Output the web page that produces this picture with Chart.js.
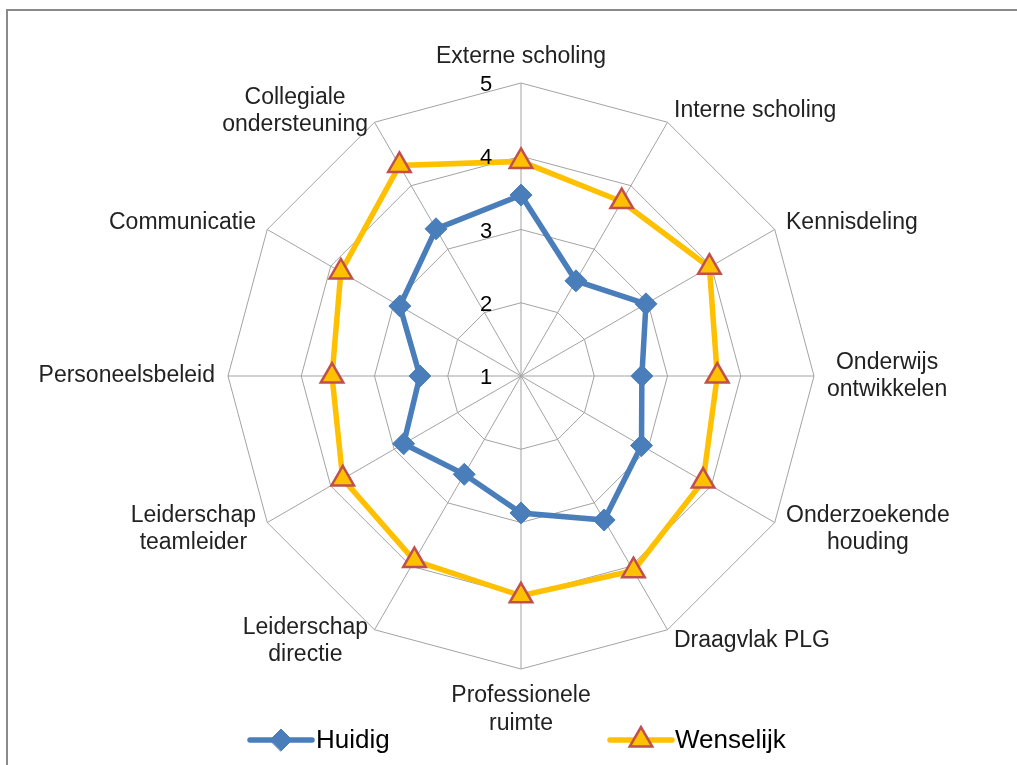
<!DOCTYPE html>
<html>
<head>
<meta charset="utf-8">
<script src="https://cdn.jsdelivr.net/npm/chart.js@4/dist/chart.umd.min.js"></script>
<style>
  html, body { margin: 0; padding: 0; background: #fff; overflow: hidden; }
  #wrap { position: relative; width: 1017px; height: 765px; }
  #frame { position: absolute; left: 6px; top: 9px; width: 1100px; height: 900px;
           border-left: 2px solid #8a8a8a; border-top: 2px solid #8a8a8a; pointer-events: none; }
  canvas { position: absolute; left: 0; top: 0; }
</style>
</head>
<body>
<div id="wrap">
  <canvas id="c" width="1017" height="765"></canvas>
  <div id="frame"></div>
</div>
<script>
const categories = [
  'Externe scholing',
  'Interne scholing',
  'Kennisdeling',
  ['Onderwijs', 'ontwikkelen'],
  ['Onderzoekende', 'houding'],
  'Draagvlak PLG',
  ['Professionele', 'ruimte'],
  ['Leiderschap', 'directie'],
  ['Leiderschap', 'teamleider'],
  'Personeelsbeleid',
  'Communicatie',
  ['Collegiale', 'ondersteuning']
];
const huidig    = [3.47, 2.5, 2.97, 2.65, 2.9, 3.27, 2.87, 2.55, 2.85, 2.38, 2.91, 3.32];
const wenselijk = [3.93, 3.75, 3.97, 3.68, 3.87, 4.07, 4.0, 3.91, 3.81, 3.58, 3.84, 4.32];
const tickValues = [1, 2, 3, 4, 5];
const seriesNames = ['Huidig', 'Wenselijk'];

const BLUE = '#4A7EBB';
const GOLD = '#FFC000';
const RED = '#C0504D';
const FONT = '"Liberation Sans", Arial, sans-serif';

const layoutFix = { cx: 521, cy: 376, R: 293 };

const pointLabelPlugin = {
  id: 'pointLabelsCentered',
  afterDraw(chart) {
    const s = chart.scales.r;
    const ctx = chart.ctx;
    const pad = 13, lh = 27.5;
    ctx.save();
    ctx.font = '23px ' + FONT;
    ctx.fillStyle = '#222';
    ctx.textBaseline = 'middle';
    ctx.textAlign = 'center';
    chart.data.labels.forEach((lab, i) => {
      const lines = Array.isArray(lab) ? lab : [lab];
      const p = s.getPointPosition(i, s.drawingArea + pad);
      const a = s.getIndexAngle(i);
      const dx = Math.sin(a), dy = -Math.cos(a);
      const w = Math.max(...lines.map(t => ctx.measureText(t).width));
      const h = lines.length * lh;
      let cx, top;
      if (Math.abs(dx) < 0.01) {
        cx = p.x;
        top = dy < 0 ? p.y - h : p.y;
      } else {
        cx = dx > 0 ? p.x + w / 2 : p.x - w / 2;
        top = p.y - h / 2;
      }
      lines.forEach((t, k) => ctx.fillText(t, cx, top + lh * (k + 0.5)));
    });
    ctx.restore();
  }
};

const tickLabelPlugin = {
  id: 'tickLabels',
  afterDraw(chart) {
    const s = chart.scales.r;
    const ctx = chart.ctx;
    ctx.save();
    ctx.font = '22px ' + FONT;
    ctx.fillStyle = '#000';
    ctx.textAlign = 'center';
    ctx.textBaseline = 'middle';
    s.ticks.forEach(t => {
      const d = s.getDistanceFromCenterForValue(t.value);
      ctx.fillText(String(t.value), s.xCenter - 35, s.yCenter - d + 2);
    });
    ctx.restore();
  }
};

const legendPlugin = {
  id: 'customLegend',
  afterDraw(chart) {
    const ctx = chart.ctx;
    ctx.save();
    const y = 740;
    const items = [
      { x0: 250, x1: 312, label: seriesNames[0], tx: 316, ds: 0 },
      { x0: 610, x1: 672, label: seriesNames[1], tx: 675, ds: 1 }
    ];
    items.forEach(it => {
      const ds = chart.data.datasets[it.ds];
      ctx.strokeStyle = ds.borderColor;
      ctx.lineWidth = ds.borderWidth;
      ctx.lineCap = 'round';
      ctx.beginPath();
      ctx.moveTo(it.x0, y);
      ctx.lineTo(it.x1, y);
      ctx.stroke();
      const cx = (it.x0 + it.x1) / 2;
      ctx.fillStyle = ds.pointBackgroundColor;
      ctx.strokeStyle = ds.pointBorderColor;
      ctx.lineWidth = ds.pointBorderWidth;
      Chart.helpers.drawPoint(ctx, {
        pointStyle: ds.pointStyle,
        radius: ds.pointRadius,
        borderWidth: ds.pointBorderWidth,
        rotation: 0
      }, cx, y);
      ctx.font = '26px ' + FONT;
      ctx.fillStyle = '#000';
      ctx.textAlign = 'left';
      ctx.textBaseline = 'middle';
      ctx.fillText(it.label, it.tx, y + 1);
    });
    ctx.restore();
  }
};

new Chart(document.getElementById('c'), {
  type: 'radar',
  data: {
    labels: categories,
    datasets: [
      {
        label: seriesNames[0],
        data: huidig,
        borderColor: BLUE,
        backgroundColor: 'transparent',
        borderWidth: 5.5,
        fill: false,
        pointStyle: 'rectRot',
        pointRadius: 11,
        pointBackgroundColor: BLUE,
        pointBorderColor: BLUE,
        pointBorderWidth: 1,
        tension: 0
      },
      {
        label: seriesNames[1],
        data: wenselijk,
        borderColor: GOLD,
        backgroundColor: 'transparent',
        borderWidth: 5.5,
        fill: false,
        pointStyle: 'triangle',
        pointRadius: 13,
        pointBackgroundColor: GOLD,
        pointBorderColor: RED,
        pointBorderWidth: 2.5,
        tension: 0
      }
    ]
  },
  options: {
    responsive: false,
    maintainAspectRatio: false,
    devicePixelRatio: 1,
    animation: false,
    layout: { padding: 0 },
    plugins: {
      legend: { display: false },
      tooltip: { enabled: false }
    },
    scales: {
      r: {
        min: tickValues[0],
        max: tickValues[tickValues.length - 1],
        ticks: { stepSize: 1, display: false },
        grid: { color: '#a3a3a3', lineWidth: 1 },
        angleLines: { color: '#a3a3a3', lineWidth: 1 },
        pointLabels: { display: false },
        afterFit(s) {
          s.xCenter = layoutFix.cx;
          s.yCenter = layoutFix.cy;
          s.drawingArea = layoutFix.R;
        }
      }
    }
  },
  plugins: [pointLabelPlugin, tickLabelPlugin, legendPlugin]
});
</script>
</body>
</html>
